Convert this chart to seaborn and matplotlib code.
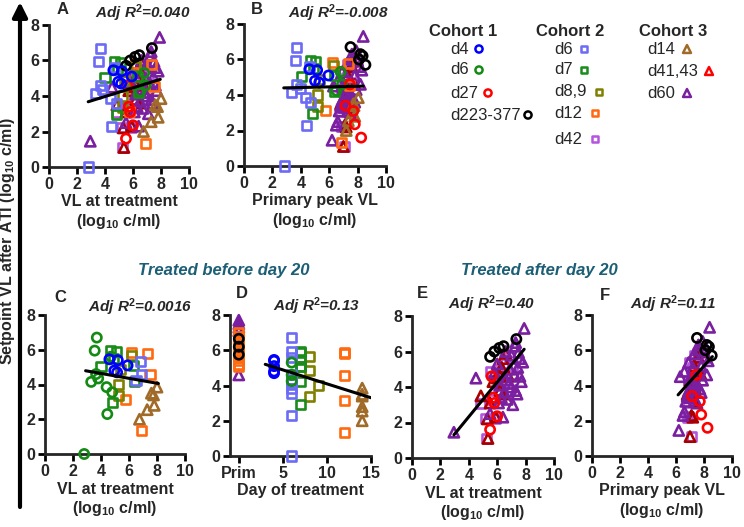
import numpy as np
import pandas as pd
import matplotlib
matplotlib.use("Agg")
import matplotlib.pyplot as plt
import seaborn as sns

# ---------------- data ----------------
group_order = ["C1 d4", "C1 d6", "C1 d27", "C1 d223-377",
               "C2 d6", "C2 d7", "C2 d8,9", "C2 d12", "C2 d42",
               "C3 d14", "C3 d41,43", "C3 d60"]
legend_labels = ["d4", "d6", "d27", "d223-377",
                 "d6", "d7", "d8,9", "d12", "d42",
                 "d14", "d41,43", "d60"]

vl_treat = {
    "C1 d4": [4.6, 5.2, 4.95, 5.15, 5.9],
    "C1 d6": [6.8, 6.9, 6.5],
    "C1 d27": [5.6, 5.7, 5.8, 6.0, 5.5],
    "C1 d223-377": [5.5, 5.8, 6.15, 6.45, 7.35],
    "C2 d6": [3.7, 3.55, 4.7, 3.65, 3.3, 3.8, 4.4, 4.8, 4.45, 2.8],
    "C2 d7": [4.65, 5.1, 4.0, 4.85, 6.3, 6.4, 4.9],
    "C2 d8,9": [6.15, 5.4, 5.25, 5.25],
    "C2 d12": [6.2, 7.35, 7.5, 5.75, 6.9],
    "C2 d42": [5.25, 5.15, 5.9, 4.8, 5.6, 6.1, 6.7, 6.3, 5.5, 6.1, 6.6, 6.9, 6.4, 7.1],
    "C3 d14": [8.0, 7.6, 7.75, 7.8, 7.3, 6.75],
    "C3 d41,43": [5.35, 5.3, 5.9, 4.85, 5.5, 6.2, 5.7, 6.1, 6.4, 6.3, 6.6, 6.0, 6.5, 6.8],
    "C3 d60": [2.95, 4.5, 7.9, 7.3, 7.25, 7.5, 7.8, 7.6, 7.0, 6.9, 7.2, 6.6, 6.8, 7.0, 7.3,
               6.5, 6.3, 6.7, 7.4, 6.1, 5.8, 6.0, 7.6, 7.1, 5.5, 6.4, 7.7, 6.2, 7.45, 6.6],
}
peak_vl = {
    "C1 d4": [4.6, 5.15, 5.0, 5.3, 5.95],
    "C1 d6": [6.8, 6.9, 6.5],
    "C1 d27": [7.45, 7.15, 7.7, 7.8, 8.25],
    "C1 d223-377": [8.55, 8.1, 8.35, 8.2, 7.5],
    "C2 d6": [3.7, 3.6, 4.6, 3.7, 3.35, 3.95, 4.35, 4.7, 4.4, 2.85],
    "C2 d7": [4.65, 5.05, 4.05, 4.8, 6.35, 6.4, 4.9],
    "C2 d8,9": [6.3, 5.3, 5.15, 5.2],
    "C2 d12": [6.25, 7.35, 7.45, 5.75, 6.9],
    "C2 d42": [7.1, 6.85, 6.9, 6.8, 7.0, 7.1, 7.3, 6.9, 7.1, 7.2, 7.0, 7.3, 7.4, 7.6],
    "C3 d14": [8.05, 7.7, 7.75, 7.8, 7.35, 7.2],
    "C3 d41,43": [7.0, 7.2, 7.1, 6.8, 7.3, 7.4, 7.0, 7.5, 7.6, 7.3, 7.7, 7.2, 7.4, 7.8],
    "C3 d60": [6.2, 6.3, 8.4, 7.9, 7.6, 8.0, 8.3, 8.1, 7.3, 7.2, 7.5, 7.0, 7.1, 7.4, 7.7,
               6.9, 6.8, 7.0, 7.8, 6.7, 6.6, 6.9, 8.2, 7.5, 6.6, 6.5, 7.9, 7.2, 7.8, 7.6],
}
setpoint = {
    "C1 d4": [5.45, 5.4, 4.8, 4.7, 5.1],
    "C1 d6": [5.3, 4.6, 4.25],
    "C1 d27": [4.6, 3.4, 3.1, 2.35, 1.6],
    "C1 d223-377": [5.7, 6.0, 6.2, 6.3, 6.7],
    "C2 d6": [6.7, 5.95, 5.6, 4.6, 4.15, 4.35, 3.85, 3.55, 2.3, 0.0],
    "C2 d7": [5.95, 5.9, 5.05, 2.95, 5.1, 4.2, 5.5],
    "C2 d8,9": [5.65, 4.85, 3.35, 4.0],
    "C2 d12": [5.85, 5.8, 4.55, 3.15, 1.35],
    "C2 d42": [1.1, 2.2, 2.25, 3.05, 3.3, 3.8, 3.7, 4.3, 4.9, 5.0, 5.3, 5.7, 4.6, 5.2],
    "C3 d14": [3.85, 3.5, 3.4, 2.8, 2.55, 2.0],
    "C3 d41,43": [1.1, 2.2, 2.3, 3.5, 3.1, 3.8, 4.3, 4.8, 5.6, 5.1, 5.9, 4.5, 3.6, 4.6],
    "C3 d60": [1.45, 4.5, 7.3, 6.5, 6.3, 5.95, 5.4, 5.6, 5.8, 5.0, 4.7, 4.4, 4.2, 4.0, 3.8,
               3.7, 3.4, 3.3, 3.6, 3.1, 4.8, 5.3, 4.6, 3.0, 2.5, 2.3, 4.3, 4.1, 5.1, 6.0],
}
treat_day = {
    "C1 d4": [4, 4, 4, 4, 4],
    "C1 d6": [6, 6, 6],
    "C2 d6": [6] * 10,
    "C2 d7": [7] * 7,
    "C2 d8,9": [8, 8, 8, 9],
    "C2 d12": [12] * 5,
    "C3 d14": [14] * 6,
}

# "Prim" column of panel D
prim_group = ["C3 d60"] * 5 + ["C2 d12"] * 11 + ["C1 d223-377"] * 3
prim_setpoint = [7.7, 7.5, 7.3, 7.1, 4.6,
                 7.0, 6.8, 6.6, 6.4, 6.2, 6.0, 5.8, 5.6, 5.4, 5.2, 5.05,
                 6.65, 6.2, 5.75]

# regression lines and statistics per panel
panels = ["A", "B", "C", "D", "E", "F"]
fit_slope = [0.245, 0.018, -0.141, -0.158, 0.975, 0.885]
fit_intercept = [2.99, 4.35, 5.20, 5.675, -1.576, -1.973]
fit_x_min = [2.8, 2.8, 2.9, 3.0, 2.95, 6.15]
fit_x_max = [7.95, 8.4, 8.1, 15.0, 7.9, 8.6]
adj_r2 = ["0.040", "-0.008", "0.0016", "0.13", "0.40", "0.11"]

# ---------------- styles ----------------
colors = {
    "C1 d4": "#0000ff", "C1 d6": "#138a13", "C1 d27": "#ff0000", "C1 d223-377": "#000000",
    "C2 d6": "#6b6bf5", "C2 d7": "#1a8c1a", "C2 d8,9": "#808000", "C2 d12": "#ff6a10",
    "C2 d42": "#b455e0", "C3 d14": "#a06a28", "C3 d41,43": "#a80000", "C3 d60": "#7a1fa0",
}
legend_colors = dict(colors)
legend_colors["C3 d41,43"] = "#ff0000"
markers = {g: ("o" if g.startswith("C1") else "s" if g.startswith("C2") else "^") for g in group_order}
msize = {"o": 44, "s": 42, "^": 54}
draw_order = ["C2 d42", "C3 d41,43", "C3 d60", "C3 d14", "C2 d12", "C2 d8,9", "C2 d7",
              "C2 d6", "C1 d6", "C1 d223-377", "C1 d27", "C1 d4"]

rows = []
for g in group_order:
    days = treat_day.get(g, [np.nan] * len(setpoint[g]))
    for v, p, s, d in zip(vl_treat[g], peak_vl[g], setpoint[g], days):
        rows.append(dict(group=g, vl=v, peak=p, sp=s, day=d))
df = pd.DataFrame(rows)
early = df[df["day"] < 20]
late = df[~(df["day"] < 20)]
prim = pd.DataFrame(dict(group=prim_group, sp=prim_setpoint, day=0))

# ---------------- figure ----------------
sns.set_theme(style="ticks")
plt.rcParams["font.family"] = ["Liberation Sans", "DejaVu Sans"]
plt.rcParams["font.weight"] = "bold"
plt.rcParams["mathtext.fontset"] = "custom"
plt.rcParams["mathtext.rm"] = "Liberation Sans"
plt.rcParams["mathtext.it"] = "Liberation Sans:italic"
plt.rcParams["mathtext.bf"] = "Liberation Sans:bold"

W, H = 744, 527
fig = plt.figure(figsize=(W / 100, H / 100), dpi=100)

ov = fig.add_axes([0, 0, 1, 1])
ov.set_xlim(0, W)
ov.set_ylim(H, 0)
ov.axis("off")


def pos(l, r, t, b):
    return [l / W, 1 - b / H, (r - l) / W, (b - t) / H]


def scatter(ax, data, xcol, swap=None):
    for g in draw_order:
        sub = data[data["group"] == g]
        if sub.empty:
            continue
        sg = swap.get(g, g) if swap else g
        m = markers[sg]
        sns.scatterplot(x=sub[xcol].values, y=sub["sp"].values, ax=ax, marker=m, s=msize[m],
                        facecolor="none", edgecolor=colors[sg], linewidth=1.9,
                        clip_on=False, legend=False, zorder=3)


def fit_line(ax, i):
    xs = np.array([fit_x_min[i], fit_x_max[i]])
    ys = fit_intercept[i] + fit_slope[i] * xs
    sns.lineplot(x=xs, y=ys, ax=ax, color="black", linewidth=2.2, zorder=4)


def style(ax, xlim, xticks, xticklabels=None, xlabel=""):
    ax.set_xlim(*xlim)
    ax.set_ylim(0, 8)
    ax.set_yticks([0, 2, 4, 6, 8])
    ax.set_xticks(xticks)
    if xticklabels is not None:
        ax.set_xticklabels(xticklabels)
    sns.despine(ax=ax)
    for s in ["left", "bottom"]:
        ax.spines[s].set_linewidth(2)
    ax.tick_params(width=2, length=5, labelsize=11.5, pad=2, color="black")
    ax.set_xlabel(xlabel, fontsize=11.5, fontweight="bold", labelpad=2, linespacing=1.2)
    ax.set_ylabel("")
    ax.set_facecolor("none")


log_lbl = r"(log$_{\mathbf{10}}$ c/ml)"

axA = fig.add_axes(pos(49, 189, 25, 167))
scatter(axA, df, "vl")
fit_line(axA, 0)
style(axA, (0, 10), range(0, 11, 2), xlabel="VL at treatment\n" + log_lbl)

axB = fig.add_axes(pos(244, 386, 24, 166))
scatter(axB, df, "peak")
fit_line(axB, 1)
style(axB, (0, 10), range(0, 11, 2), xlabel="Primary peak VL\n" + log_lbl)

axC = fig.add_axes(pos(45, 185, 315, 454))
scatter(axC, early, "vl", swap={"C1 d6": "C2 d6", "C2 d6": "C1 d6"})
fit_line(axC, 2)
style(axC, (0, 10), range(0, 11, 2), xlabel="VL at treatment\n" + log_lbl)

axD = fig.add_axes(pos(230, 371, 315, 456))
scatter(axD, pd.concat([prim, early]), "day")
fit_line(axD, 3)
style(axD, (-1, 15), [0, 5, 10, 15], ["Prim", "5", "10", "15"], xlabel="Day of treatment")

axE = fig.add_axes(pos(412, 554, 316, 458))
scatter(axE, late, "vl")
fit_line(axE, 4)
style(axE, (0, 10), range(0, 11, 2), xlabel="VL at treatment\n" + log_lbl)

axF = fig.add_axes(pos(592, 732, 315, 456))
scatter(axF, late, "peak")
fit_line(axF, 5)
style(axF, (0, 10), range(0, 11, 2), xlabel="Primary peak VL\n" + log_lbl)

# panel letters and statistics
letter_xy = [(63, 9), (257, 9), (60, 297), (242, 293), (422, 293), (605, 295)]
r2_xy = [(143, 13), (338, 13), (140, 307), (317, 306), (492, 304), (673, 304)]
for i, p in enumerate(panels):
    ov.text(*letter_xy[i], p, fontsize=12, fontweight="bold", ha="center", va="center")
    ov.text(*r2_xy[i], r"Adj R$^{\mathbf{2}}$=" + adj_r2[i], fontsize=11, fontweight="bold",
            fontstyle="italic", ha="center", va="center")

# group titles
teal = "#1b5e75"
ov.text(224, 270, "Treated before day 20", fontsize=12, fontweight="bold", fontstyle="italic",
        color=teal, ha="center", va="center")
ov.text(539, 270, "Treated after day 20", fontsize=12, fontweight="bold", fontstyle="italic",
        color=teal, ha="center", va="center")

# shared y label with arrow
ov.annotate("", xy=(20, 2), xytext=(20, 507),
            arrowprops=dict(arrowstyle="-|>", lw=3, color="black", mutation_scale=22,
                            shrinkA=0, shrinkB=0))
ov.text(8, 241, "Setpoint VL after ATI " + log_lbl, rotation=90, fontsize=11.5,
        fontweight="bold", ha="center", va="center")

# custom legend
col_head = [(463, 32, "Cohort 1"), (570, 32, "Cohort 2"), (673, 32, "Cohort 3")]
for x, y, t in col_head:
    ov.text(x, y, t, fontsize=12, fontweight="bold", ha="center", va="center")
leg_text_x = {"C1": 450, "C2": 554, "C3": 647}
leg_rows = {
    "C1 d4": (49, 479), "C1 d6": (70, 479), "C1 d27": (93, 488), "C1 d223-377": (115, 528),
    "C2 d6": (49, 584), "C2 d7": (70, 584), "C2 d8,9": (92, 599), "C2 d12": (113, 595),
    "C2 d42": (139, 595),
    "C3 d14": (49, 687), "C3 d41,43": (71, 709), "C3 d60": (93, 687),
}
for g, lab in zip(group_order, legend_labels):
    y, mx = leg_rows[g]
    ov.text(leg_text_x[g[:2]], y, lab, fontsize=12, fontweight="normal", ha="left", va="center")
    m = markers[g]
    ov.scatter([mx], [y], marker=m, s=msize[m] * 0.6, facecolor="none",
               edgecolor=legend_colors[g], linewidth=1.8)

fig.savefig("out.png", dpi=100)
